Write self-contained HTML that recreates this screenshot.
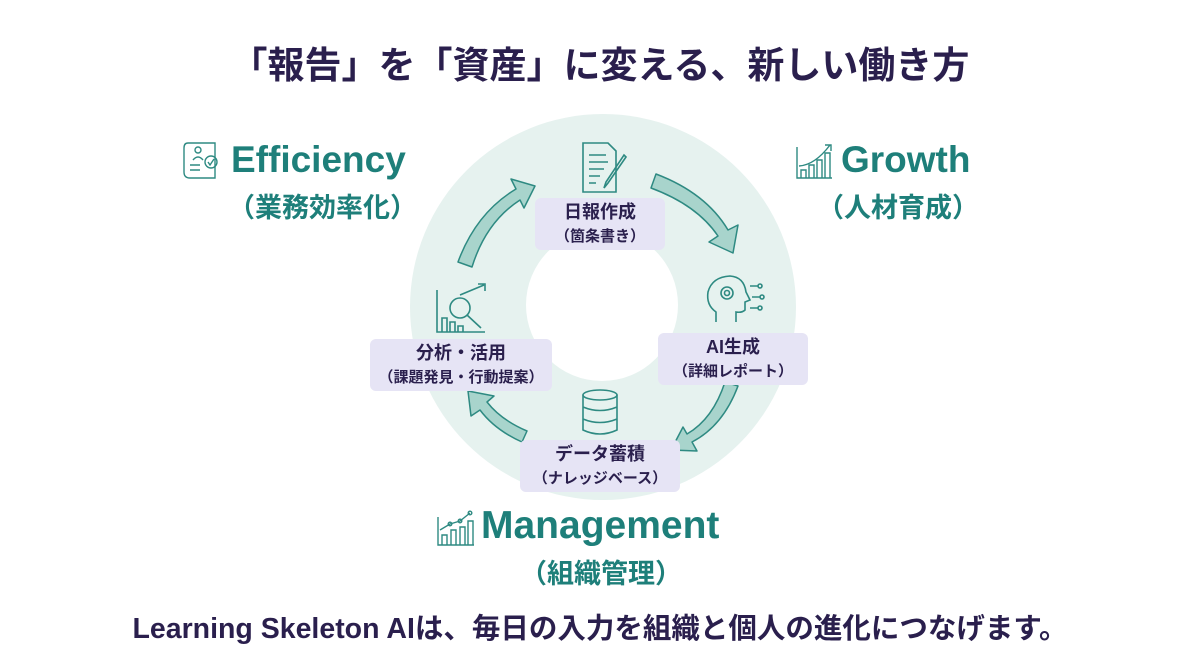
<!DOCTYPE html>
<html><head><meta charset="utf-8"><style>
body{margin:0;width:1200px;height:670px;background:#fff;overflow:hidden;font-family:"Liberation Sans","Noto Sans CJK JP",sans-serif;}
.t{position:absolute;white-space:nowrap;}
</style></head><body>
<div style="position:relative;width:1200px;height:670px;">
<svg width="1200" height="670" style="position:absolute;left:0;top:0">
 <circle cx="603" cy="307" r="193" fill="#e6f2ef"/>
 <circle cx="602" cy="305" r="76" fill="#fff"/>
 <g fill="#a8d4cc" stroke="#2e8a82" stroke-width="1.5" stroke-linejoin="round">
  <path d="M458 262 Q476 213 516 189 L511 179 L535 186 L524 208 L520 200 Q486 222 472 267 Z"/>
  <path d="M656 174 Q706 193 728 230 L738 225 L733 253 L709 242 L718 236 Q697 205 651 188 Z"/>
  <path d="M738 386 Q723 426 692 442 L697 451 L671 450 L683 427 L687 434 Q713 419 725 382 Z"/>
  <path d="M522 442 Q495 430 480 410 L471 416 L468 391 L494 396 L487 402 Q501 420 527 431 Z"/>
 </g>
 <g fill="#e6e4f5">
  <rect x="535" y="198" width="130" height="52" rx="6"/>
  <rect x="658" y="333" width="150" height="52" rx="6"/>
  <rect x="520" y="440" width="160" height="52" rx="6"/>
  <rect x="370" y="339" width="182" height="52" rx="6"/>
 </g>
 <g fill="none" stroke="#2e8a82" stroke-width="1.6">
  <path d="M583 143 H608 L616 151 V192 H583 Z"/>
  <path d="M589 155 H606 M589 162 H608 M589 169 H604 M589 176 H600 M589 183 H596"/>
  <path d="M626 157 L608 183 L604 188 L606 182 L624 155 Z"/>
  <path d="M716 322 V312 Q706 305 708 292 Q712 277 730 276 Q744 277 746 292 L750 300 L745 302 V310 Q742 313 736 312 V322"/>
  <circle cx="727" cy="293" r="6"/><circle cx="727" cy="293" r="2.5"/>
  <path d="M750 286 H758 M752 297 H760 M750 308 H758"/>
  <circle cx="760" cy="286" r="2"/><circle cx="762" cy="297" r="2"/><circle cx="760" cy="308" r="2"/>
  <ellipse cx="600" cy="395" rx="17" ry="5"/>
  <path d="M583 395 V430 Q600 438 617 430 V395 M583 407 Q600 414 617 407 M583 419 Q600 426 617 419"/>
  <path d="M437 290 V332 H485"/>
  <path d="M442 332 V318 H447 V332 M450 332 V322 H455 V332 M458 332 V326 H463 V332"/>
  <circle cx="460" cy="308" r="10"/><path d="M467 315 L481 328"/>
  <path d="M460 295 L484 285 M478 284 H485 V291"/>
 </g>
 <g fill="none" stroke="#2e8a82" stroke-width="1.4">
  <path d="M188 143 H215 V178 H190 Q184 178 184 172 M188 143 Q184 143 184 148 V172"/>
  <circle cx="198" cy="150" r="3"/><path d="M193 160 Q198 154 203 160"/>
  <path d="M190 165 H200 M190 170 H200"/><circle cx="211" cy="162" r="6"/><path d="M208 162 L210 165 L214 159"/>
 </g>
 <g fill="none" stroke="#2e8a82" stroke-width="1.4">
  <path d="M797 147 V178 H832"/><path d="M801 178 V170 H806 V178 M809 178 V165 H814 V178 M817 178 V160 H822 V178 M825 178 V153 H830 V178"/>
  <path d="M799 166 Q815 165 830 145 M825 145 H831 V151"/>
 </g>
 <g fill="none" stroke="#2e8a82" stroke-width="1.4">
  <path d="M438 517 V545 H474"/><path d="M442 545 V535 H447 V545 M451 545 V530 H456 V545 M460 545 V527 H465 V545 M468 545 V521 H473 V545"/>
  <path d="M440 530 L450 524 L460 521 L470 513"/><circle cx="450" cy="524" r="1.8"/><circle cx="460" cy="521" r="1.8"/><circle cx="470" cy="513" r="1.8"/>
 </g>
</svg>
<div class="t" style="left:0;width:1200px;top:35px;text-align:center;font-size:37px;font-weight:bold;color:#2a1f4d;">「報告」を「資産」に変える、新しい働き方</div>
<div class="t" style="left:231px;top:139px;font-size:37px;font-weight:bold;color:#1e7f7a;">Efficiency</div>
<div class="t" style="left:228px;top:186px;font-size:27px;font-weight:bold;color:#1e7f7a;">（業務効率化）</div>
<div class="t" style="left:841px;top:139px;font-size:37px;font-weight:bold;color:#1e7f7a;">Growth</div>
<div class="t" style="left:817px;top:186px;font-size:27px;font-weight:bold;color:#1e7f7a;">（人材育成）</div>
<div class="t" style="left:481px;top:504px;font-size:39px;font-weight:bold;color:#1e7f7a;">Management</div>
<div class="t" style="left:520px;top:552px;font-size:27px;font-weight:bold;color:#1e7f7a;">（組織管理）</div>
<div class="t" style="left:535px;width:130px;top:201px;text-align:center;font-size:18px;font-weight:bold;color:#2a1f4d;line-height:23px;">日報作成<br><span style="font-size:15px">（箇条書き）</span></div>
<div class="t" style="left:658px;width:150px;top:336px;text-align:center;font-size:18px;font-weight:bold;color:#2a1f4d;line-height:23px;">AI生成<br><span style="font-size:15px">（詳細レポート）</span></div>
<div class="t" style="left:520px;width:160px;top:443px;text-align:center;font-size:18px;font-weight:bold;color:#2a1f4d;line-height:23px;">データ蓄積<br><span style="font-size:15px">（ナレッジベース）</span></div>
<div class="t" style="left:370px;width:182px;top:342px;text-align:center;font-size:18px;font-weight:bold;color:#2a1f4d;line-height:23px;">分析・活用<br><span style="font-size:15px">（課題発見・行動提案）</span></div>
<div class="t" style="left:0;width:1200px;top:606px;text-align:center;font-size:28.5px;font-weight:bold;color:#2a1f4d;">Learning Skeleton AIは、毎日の入力を組織と個人の進化につなげます。</div>
</div>
</body></html>
